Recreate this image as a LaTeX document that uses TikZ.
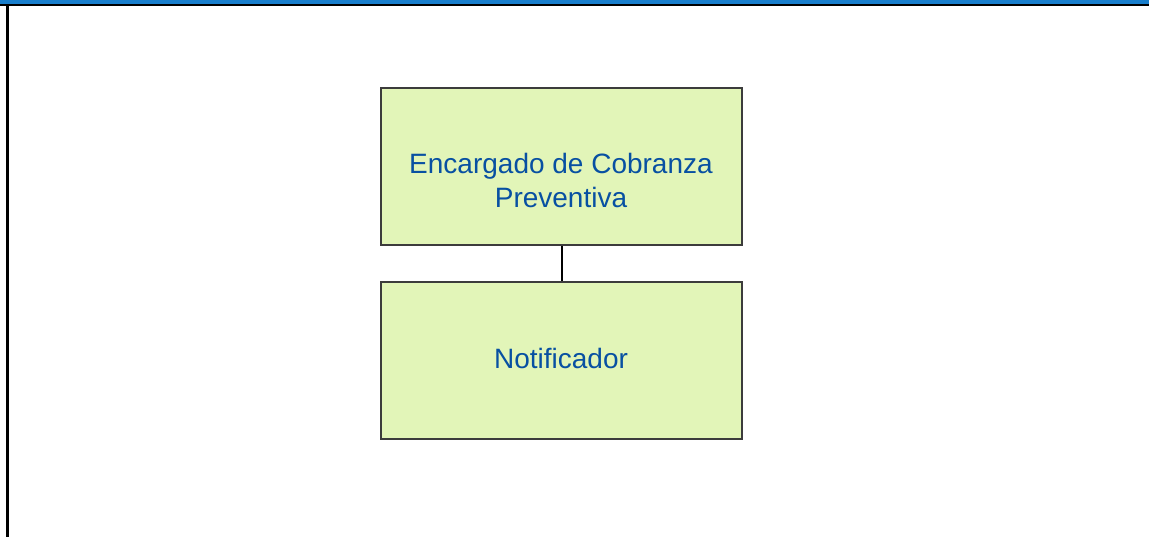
\documentclass[tikz,border=0pt]{standalone}
\usepackage{fontspec}
\setmainfont{Liberation Sans}
\definecolor{barblue}{RGB}{24,126,204}
\definecolor{boxfill}{RGB}{226,245,184}
\definecolor{boxline}{RGB}{60,60,60}
\definecolor{txtblue}{RGB}{8,80,162}
\tikzset{
  rolebox/.style={draw=boxline, line width=2.4pt, fill=boxfill, minimum width=361pt, minimum height=157pt, inner sep=0pt, anchor=north west},
  roletext/.style={text=txtblue, font=\fontsize{28}{34}\selectfont, inner sep=0pt, anchor=base},
  link/.style={draw=black, line width=2.2pt}
}
\begin{document}
\begin{tikzpicture}[x=1pt,y=-1pt]
\useasboundingbox (0,0) rectangle (1149,537);
\fill[barblue] (0,0) rectangle (1149,4.5);
\fill[black] (0,4) rectangle (1149,6.5);
\fill[black] (6,4) rectangle (8.5,537);
\node[rolebox] (b1) at (380,87) {};
\node[rolebox] (b2) at (380,281) {};
\draw[link] (b1.south) -- (b2.north);
\node[roletext] (t1a) at (561,174) {Encargado de Cobranza};
\node[roletext] (t1b) at (561,208) {Preventiva};
\node[roletext] (t2) at (561,369) {Notificador};
\end{tikzpicture}
\end{document}
